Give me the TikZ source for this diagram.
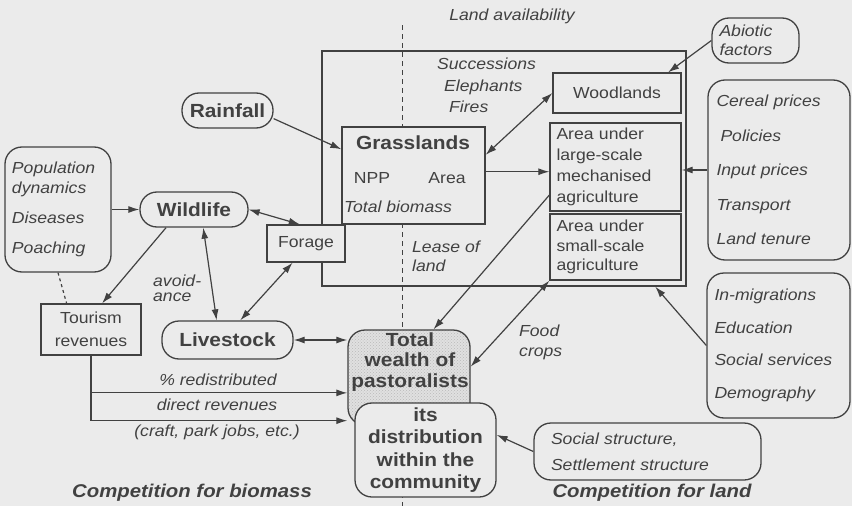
\documentclass[tikz,border=0pt]{standalone}
\usepackage{fontspec}
\setmainfont{Liberation Sans}[FakeStretch=1.1]
\usetikzlibrary{arrows.meta}
\usetikzlibrary{patterns}
\definecolor{bg}{RGB}{235,235,235}
\definecolor{ink}{RGB}{65,65,65}

\begin{document}
\begin{tikzpicture}[x=1pt, y=-1pt,
    >={Latex[length=11pt,width=7pt]},
    every node/.style={text=ink, font=\fontsize{16}{19}\selectfont, inner sep=0pt},
    box/.style={draw=ink, line width=1.3pt, fill=bg},
    rbox/.style={box, rounded corners=17pt},
    pill/.style={rbox, font=\fontsize{19}{21}\selectfont\bfseries},
    lbl/.style={font=\fontsize{16}{19}\selectfont\itshape},
    big/.style={font=\fontsize{18.5}{21}\selectfont\bfseries\itshape},
    arr/.style={draw=ink, line width=1.2pt}]
    \fill[bg] (0,0) rectangle (852,506);
    \useasboundingbox (0,0) rectangle (852,506);

    % divide between biomass and land
    \draw[ink, line width=1pt, dash pattern=on 5pt off 4pt] (402,25) -- (402,506);
    \node[lbl] (avail) at (512,16) {Land availability};
    \node[draw=ink, line width=1.3pt, minimum width=364pt, minimum height=235pt] (land) at (504,168.5) {};

    % land cover boxes
    \node[box, minimum width=143pt, minimum height=97pt] (grass) at (413.5,175.5) {};
    \node[font=\fontsize{19}{21}\selectfont\bfseries] (grasst) at (413,143) {Grasslands};
    \node (npp) at (372,178) {NPP};
    \node (area) at (447,178) {Area};
    \node[lbl] (biom) at (398,207) {Total biomass};
    \node[box, minimum width=128pt, minimum height=40pt] (wood) at (617,93) {Woodlands};
    \node[box, minimum width=131pt, minimum height=88pt, align=left, text width=118pt,
      font=\fontsize{16}{21}\selectfont] (large) at (615.5,167)
      {Area under\\large-scale\\mechanised\\agriculture};
    \node[box, minimum width=131pt, minimum height=66pt, align=left, text width=118pt,
      font=\fontsize{16}{19.5}\selectfont] (small) at (615.5,247)
      {Area under\\small-scale\\agriculture};
    \node[lbl, anchor=west] (succ) at (437,64) {Successions};
    \node[lbl, anchor=west] (eleph) at (444,87) {Elephants};
    \node[lbl, anchor=west] (fires) at (449,107) {Fires};
    \node[lbl, anchor=west, align=left, font=\fontsize{16}{19}\selectfont\itshape] (lease) at (412,256) {Lease of\\land};

    % drivers on the right
    \node[rbox, minimum width=87pt, minimum height=45pt, align=left, text width=72pt,
      font=\fontsize{16}{19}\selectfont\itshape] (abio) at (755.5,40.5) {Abiotic\\factors};
    \node[rbox, minimum width=142pt, minimum height=180pt, align=left, text width=125pt,
      font=\fontsize{16}{34.5}\selectfont\itshape] (cereal) at (779,170)
      {Cereal prices\\\hspace*{4pt}Policies\\Input prices\\Transport\\Land tenure};
    \node[rbox, minimum width=143pt, minimum height=145pt, align=left, text width=128pt,
      font=\fontsize{16}{32.7}\selectfont\itshape] (inmig) at (778.5,345.5)
      {In-migrations\\Education\\Social services\\Demography};
    \node[rbox, minimum width=227pt, minimum height=57pt, align=left, text width=193pt,
      font=\fontsize{16}{26}\selectfont\itshape] (social) at (647.5,451.5)
      {Social structure,\\Settlement structure};

    % wealth and its distribution
    \node[draw=ink, line width=1.3pt, rounded corners=17pt, preaction={fill=bg!90!gray},
      pattern=crosshatch dots, pattern color=gray!55, minimum width=122pt, minimum height=95pt]
      (wealth) at (409,377.5) {};
    \node[align=center, font=\fontsize{19}{20.5}\selectfont\bfseries] (wealtht) at (410,362)
      {Total\\wealth of\\pastoralists};
    \node[rbox, minimum width=141pt, minimum height=94pt, align=center,
      font=\fontsize{19}{22.5}\selectfont\bfseries] (comm) at (425.5,450)
      {its\\distribution\\within the\\community};

    % biomass side
    \node[pill, minimum width=91pt, minimum height=35pt] (rain) at (227.5,110.5) {Rainfall};
    \node[rbox, minimum width=106pt, minimum height=125pt, align=left, text width=92pt,
      font=\fontsize{16}{20}\selectfont\itshape] (pop) at (58,209.5)
      {Population\\dynamics\\[10pt]Diseases\\[10pt]Poaching};
    \node[pill, minimum width=108pt, minimum height=35pt] (wild) at (194,209.5) {Wildlife};
    \node[box, minimum width=78pt, minimum height=37pt] (forage) at (306,243.5) {Forage};
    \node[pill, minimum width=131pt, minimum height=38pt] (live) at (227.5,340) {Livestock};
    \node[box, minimum width=100pt, minimum height=51pt, align=center,
      font=\fontsize{16}{23}\selectfont] (tour) at (91,329.5) {Tourism\\revenues};
    \node[lbl, anchor=west, align=left, font=\fontsize{16}{15}\selectfont\itshape] (avoid) at (153,288) {avoid-\\ance};
    \node[lbl, anchor=west, align=left, font=\fontsize{16}{20}\selectfont\itshape] (food) at (519,342) {Food\\crops};
    \node[lbl] (redis) at (218,380) {\% redistributed};
    \node[lbl] (direct) at (217,405) {direct revenues};
    \node[lbl] (craft) at (217,432) {(craft, park jobs, etc.)};

    % titles
    \node[big] (tbio) at (192,493) {Competition for biomass};
    \node[big] (tland) at (652,493) {Competition for land};

    % connectors
    \draw[arr, ->] (abio.west) -- (wood.22);
    \draw[arr, <->] (grass.16) -- (wood.west);
    \draw[arr, ->] (grass.3) -- (grass.3 -| large.west);
    \draw[arr, ->] (cereal.west) -- (cereal.west -| large.east);
    \draw[arr, ->] (inmig.west) -- (land.-38.4);
    \draw[arr, ->] (social.west) -- (comm.12);
    \draw[arr, ->] (large.203) -- (wealth.63);
    \draw[arr, <->] (wealth.10) -- (small.south west);
    \draw[arr, ->] (rain.-10) -- (grass.160);
    \draw[arr, ->] (pop.east) -- (wild.west);
    \draw[arr, <->] (wild.east) -- (forage.108);
    \draw[arr, ->] (wild.213) -- (tour.67);
    \draw[arr, dashed] (pop.south) -- (tour.133);
    \draw[arr, <->] (wild.-63) -- (live.119);
    \draw[arr, <->] (forage.235) -- (live.57);
    \draw[arr, <->] (live.east) -- (live.east -| wealth.west);
    \draw[arr, ->] (tour.south) |- (wealth.194);
    \draw[arr, ->] (tour.south) |- (wealth.215);
\end{tikzpicture}
\end{document}
